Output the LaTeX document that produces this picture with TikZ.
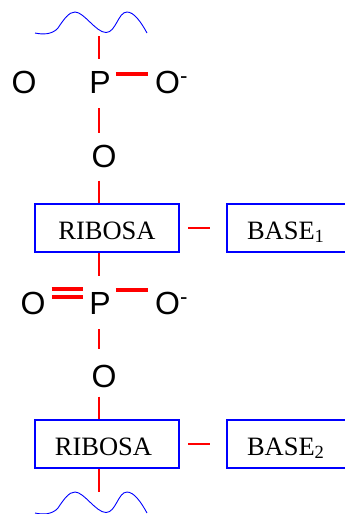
\documentclass[tikz,border=0pt]{standalone}
\usepackage{fontspec}
\setmainfont{Liberation Serif}
\newfontfamily\atomfont{Liberation Sans}

\tikzset{
    atom/.style={inner sep=0pt,font=\atomfont\fontsize{32}{32}\selectfont},
    box/.style={draw=blue,line width=2pt,inner sep=0pt,minimum height=48pt,text height=22.5pt,text depth=0pt,font=\fontsize{26.5}{26.5}\selectfont},
    ribose/.style={box,minimum width=144pt},
    basebox/.style={box,anchor=west,text width=83pt,inner xsep=20pt,align=left},
    bond/.style={draw=red,line width=2pt},
    thick bond/.style={draw=red,line width=3.5pt},
    double bond/.style={draw=red,line width=3.2pt,double,double distance=4.8pt},
    strand/.style={draw=blue,line width=0.9pt}
}

\begin{document}
\begin{tikzpicture}[x=1pt,y=-1pt]
    \useasboundingbox (0,0) rectangle (345,514);
    \coordinate (spine) at (98.5,0);

    % first unit
    \node[atom] (Oa) at (24,82) {O};
    \node[atom] (Pa) at (100,82) {P};
    \node[atom,anchor=west] (Ob) at (155,82) {O\textsuperscript{-}};
    \node[atom] (Oc) at (104,156) {O};
    \node[ribose] (riba) at (107,228) {RIBOSA};
    \node[basebox] (basea) at (226,228) {BASE\textsubscript{1}};

    % second unit
    \node[atom] (Od) at (33,303) {O};
    \node[atom] (Pb) at (100,303) {P};
    \node[atom,anchor=west] (Oe) at (155,303) {O\textsuperscript{-}};
    \node[atom] (Of) at (104,376) {O};
    \node[ribose] (ribb) at (107,444) {\hspace*{-7pt}RIBOSA};
    \node[basebox] (baseb) at (226,444) {BASE\textsubscript{2}};

    % chain ends
    \foreach \yy in {0,480} {
        \draw[strand,yshift=-\yy pt] (35,33)
            .. controls (42,34.5) and (52,35) .. (58,28)
            .. controls (64,19) and (69,12) .. (75,12)
            .. controls (84,12) and (96,32.5) .. (106,32.5)
            .. controls (116,32.5) and (118,12) .. (127,12)
            .. controls (134,12) and (141,22) .. (147,33);
    }
    \coordinate (enda) at (98.5,36);
    \coordinate (endb) at (98.5,492);

    % backbone
    \draw[bond,shorten >=12pt] (enda) -- (Pa.north -| spine);
    \draw[bond,shorten <=15pt,shorten >=11pt] (Pa.south -| spine) -- (Oc.north -| spine);
    \draw[bond,shorten <=13pt] (Oc.south -| spine) -- (riba.north -| spine);
    \draw[bond,shorten >=16pt] (riba.south -| spine) -- (Pb.north -| spine);
    \draw[bond,shorten <=15pt,shorten >=15pt] (Pb.south -| spine) -- (Of.north -| spine);
    \draw[bond,shorten <=9pt] (Of.south -| spine) -- (ribb.north -| spine);
    \draw[bond] (ribb.south -| spine) -- (endb);

    % side bonds
    \draw[thick bond,shorten <=5pt,shorten >=7pt] ([yshift=8pt]Pa.east) -- ([yshift=8pt]Ob.west);
    \draw[thick bond,shorten <=5pt,shorten >=7pt] ([yshift=13pt]Pb.east) -- ([yshift=13pt]Oe.west);
    \draw[double bond,shorten <=6pt,shorten >=6pt] ([yshift=10pt]Od.east) -- ([yshift=10pt]Pb.west);
    \draw[bond,shorten <=8pt,shorten >=16pt] (riba.east) -- (basea.west);
    \draw[bond,shorten <=8pt,shorten >=16pt] (ribb.east) -- (baseb.west);
\end{tikzpicture}
\end{document}
